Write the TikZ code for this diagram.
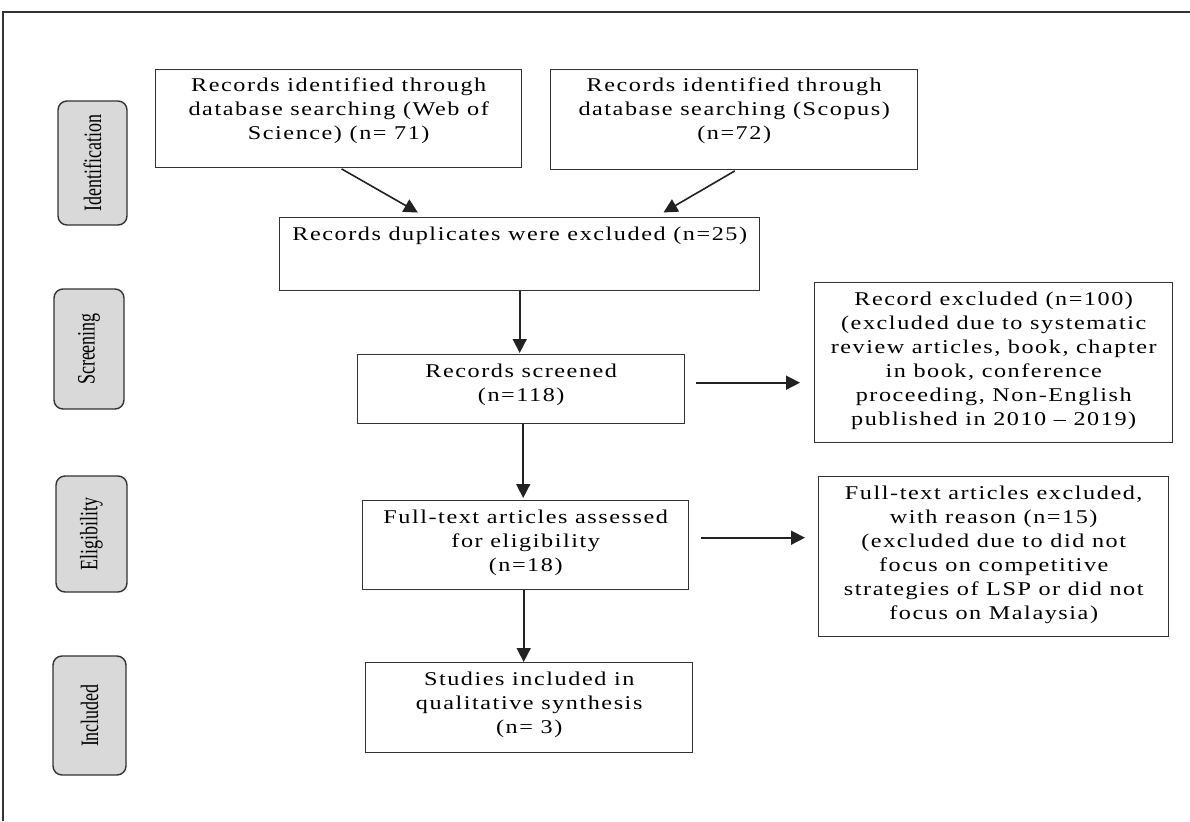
\documentclass[tikz,border=0pt]{standalone}
\usepackage{fontspec}
\setmainfont{Liberation Serif}
\newfontfamily\boxfont[FakeStretch=1.24,LetterSpace=8]{Liberation Serif}
\newfontfamily\sidefont[FakeStretch=0.72]{Liberation Serif}
\usetikzlibrary{arrows.meta,calc}
\definecolor{sidegray}{HTML}{D9D9D9}
\definecolor{edge}{HTML}{333333}
\definecolor{arrowc}{HTML}{222222}
\newcommand{\tb}[1]{\parbox[t]{520pt}{\centering #1}}
\tikzset{
  box/.style={draw=edge, line width=1.4pt, rectangle, inner sep=0pt, anchor=north west},
  txt/.style={anchor=base, inner sep=0pt, font=\boxfont\fontsize{19.5}{24}\selectfont},
  side/.style={draw=edge, line width=1.4pt, fill=sidegray, rounded corners=9pt, rotate=90,
    inner sep=0pt, font=\sidefont\fontsize{25}{28}\selectfont},
  arr/.style={draw=arrowc, line width=1.6pt, -{Triangle[length=14pt,width=14pt]}},
  frame/.style={draw=edge, line width=1.4pt}
}
\begin{document}
\begin{tikzpicture}[x=1pt,y=-1pt]
\useasboundingbox (0,0) rectangle (1190,821);
% outer frame
\coordinate (f1) at (3,821);
\coordinate (f2) at (3,12);
\coordinate (f3) at (1190,12);
\draw[frame] (f1) -- (f2) -- (f3);
% side labels
\node[side, minimum width=124pt, minimum height=69pt] (s1) at (92.5,163) {Identification};
\node[side, minimum width=120pt, minimum height=70pt] (s2) at (89,349) {Screening};
\node[side, minimum width=116pt, minimum height=71pt] (s3) at (91.5,534) {Eligibility};
\node[side, minimum width=119pt, minimum height=73pt] (s4) at (89.5,715.5) {Included};
% boxes
\node[box, minimum width=366pt, minimum height=98pt] (A) at (155,69) {};
\node[box, minimum width=367pt, minimum height=100pt] (B) at (550,69) {};
\node[box, minimum width=480pt, minimum height=73pt] (C) at (279,217) {};
\node[box, minimum width=327pt, minimum height=69pt] (D) at (357,354) {};
\node[box, minimum width=358pt, minimum height=160pt] (E) at (814,282) {};
\node[box, minimum width=326pt, minimum height=89pt] (F) at (362,500) {};
\node[box, minimum width=350pt, minimum height=160pt] (G) at (818,476) {};
\node[box, minimum width=327pt, minimum height=90pt] (H) at (365,662) {};
% texts
\node[txt] (At) at ($(A.north)+(0,23)$) {\tb{Records identified through\\database searching (Web of\\Science) (n= 71)}};
\node[txt] (Bt) at ($(B.north)+(0,23)$) {\tb{Records identified through\\database searching (Scopus)\\(n=72)}};
\node[txt] (Ct) at ($(C.north)+(0,23)$) {\tb{Records duplicates were excluded (n=25)}};
\node[txt] (Dt) at ($(D.north)+(0,23)$) {\tb{Records screened\\(n=118)}};
\node[txt] (Et) at ($(E.north)+(0,23)$) {\tb{Record excluded (n=100)\\(excluded due to systematic\\review articles, book, chapter\\in book, conference\\proceeding, Non-English\\published in 2010 – 2019)}};
\node[txt] (Ft) at ($(F.north)+(0,23)$) {\tb{Full-text articles assessed\\for eligibility\\(n=18)}};
\node[txt] (Gt) at ($(G.north)+(0,23)$) {\tb{Full-text articles excluded,\\with reason (n=15)\\(excluded due to did not\\focus on competitive\\strategies of LSP or did not\\focus on Malaysia)}};
\node[txt] (Ht) at ($(H.north)+(0,23)$) {\tb{Studies included in\\qualitative synthesis\\(n= 3)}};
% connector end points
\coordinate (a1) at ($(A.south)+(2,0)$);
\coordinate (a2) at ($(C.north)+(-94,0)$);
\coordinate (b1) at ($(B.south)+(1.5,0)$);
\coordinate (b2) at ($(C.north)+(136,0)$);
\coordinate (d1) at ($(D.east)+(0,-6.5)$);
\coordinate (e1) at (d1 -| E.west);
\coordinate (g0) at ($(F.east)+(0,-7.5)$);
\coordinate (g1) at (g0 -| G.west);
\coordinate (df1) at ($(D.south)+(2,0)$);
\coordinate (df2) at (df1 |- F.north);
\coordinate (fh1) at ($(F.south)+(-2,0)$);
\coordinate (fh2) at (fh1 |- H.north);
% connectors
\draw[arr, shorten <=1pt, shorten >=9pt] (a1) -- (a2);
\draw[arr, shorten <=1pt, shorten >=9pt] (b1) -- (b2);
\draw[arr, shorten >=1pt] (C.south) -- (C.south |- D.north);
\draw[arr, shorten >=2pt] (df1) -- (df2);
\draw[arr] (fh1) -- (fh2);
\draw[arr, shorten <=11pt, shorten >=14pt] (d1) -- (e1);
\draw[arr, shorten <=12pt, shorten >=13pt] (g0) -- (g1);
\end{tikzpicture}
\end{document}
